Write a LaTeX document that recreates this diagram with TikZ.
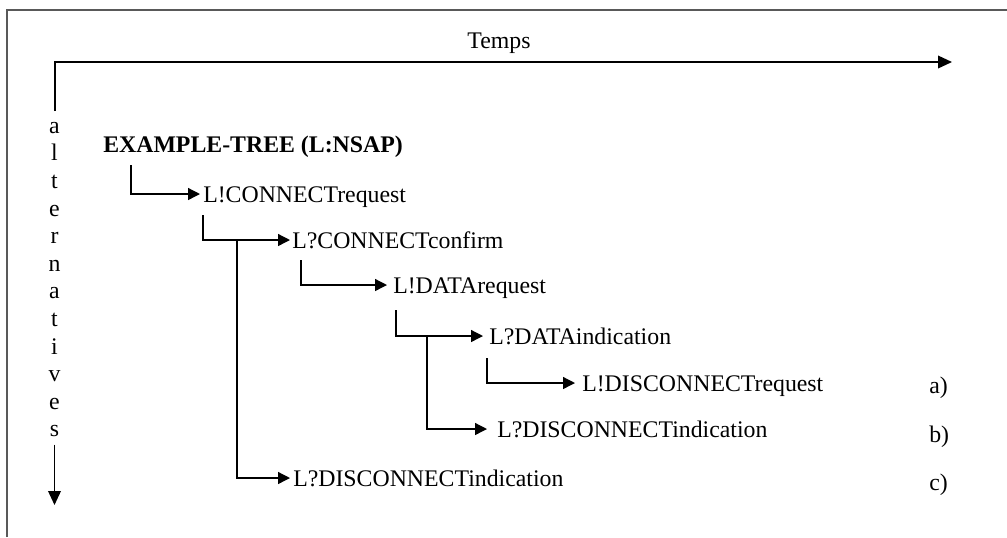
\documentclass[tikz,border=0pt]{standalone}
\usepackage{fontspec}
\setmainfont{Liberation Serif}
\usetikzlibrary{arrows.meta,calc}
\begin{document}
\begin{tikzpicture}[x=0.75pt,y=-0.75pt,
  txt/.style={font=\fontsize{17.85pt}{20pt}\selectfont},
  every node/.style={txt, inner sep=0pt},
  boldtxt/.style={font=\fontsize{17.85pt}{20pt}\selectfont\bfseries},
  item/.style={anchor=west, text height=12.1pt, text depth=4.5pt},
  link/.style={line width=1pt, -{Triangle[length=9pt,width=9pt]}},
  axis/.style={line width=1.1pt, -{Triangle[length=10.5pt,width=9.5pt]}},
  frame/.style={line width=1.5pt, draw=black!65}]
\useasboundingbox (0,0) rectangle (1007,537);

% outer frame (left and top edges)
\draw[frame] (7,537) -- (7,10) -- (1007,10);

% time axis
\coordinate (torig) at (55,111);
\coordinate (tend) at (952,62);
\draw[axis] (torig) |- (tend);
\node (temps) at (499,43) {Temps};

% alternatives axis, written vertically
\foreach \c [count=\i] in {a,l,t,e,r,n,a,t,i,v,e,s}
  \node[anchor=base] (l\i) at (54.5,{133.3+27.6*(\i-1)}) {\c};
\coordinate (altend) at (55,505);
\draw[axis, shorten <=5.5pt] (l12.south) -- (l12.south |- altend);

% tree of events
\node[item, boldtxt] (ex) at (103,147) {EXAMPLE-TREE (L:NSAP)};
\node[item] (n1) at (203,197) {L!CONNECTrequest};
\node[item] (n2) at (292,243) {L?CONNECTconfirm};
\node[item] (n3) at (393,288) {L!DATArequest};
\node[item] (n4) at (489,339) {L?DATAindication};
\node[item] (n5) at (582,386) {L!DISCONNECTrequest};
\node[item] (n6) at (497,432) {L?DISCONNECTindication};
\node[item] (n7) at (293,481) {L?DISCONNECTindication};

\draw[link, shorten >=2.25pt] (ex.south west) ++(28,7) |- ([yshift=2.25pt]n1.west);
\draw[link, shorten >=1.5pt] (n1.south west) ++(0,7) |- ([yshift=2.25pt]n2.west);
\draw[link, shorten >=2.25pt] (n1.south west |- n2.west) ++(34,-3) |- ([yshift=2.25pt]n7.west);
\draw[link, shorten >=4.5pt] (n2.south west) ++(9,6) |- ([yshift=2.25pt]n3.west);
\draw[link, shorten >=4.5pt] (n3.south west) ++(3,11) |- ([yshift=2.25pt]n4.west);
\draw[link, shorten >=7.5pt] (n3.south west |- n4.west) ++(34,-3) |- ([yshift=2.25pt]n6.west);
\draw[link, shorten >=5.25pt] (n4.south west) ++(-2,8) |- ([yshift=2.25pt]n5.west);

% outcome labels
\node[anchor=west] (la) at (929,388) {a)};
\node[anchor=west] (lb) at (929,437) {b)};
\node[anchor=west] (lc) at (929,485) {c)};
\end{tikzpicture}
\end{document}
